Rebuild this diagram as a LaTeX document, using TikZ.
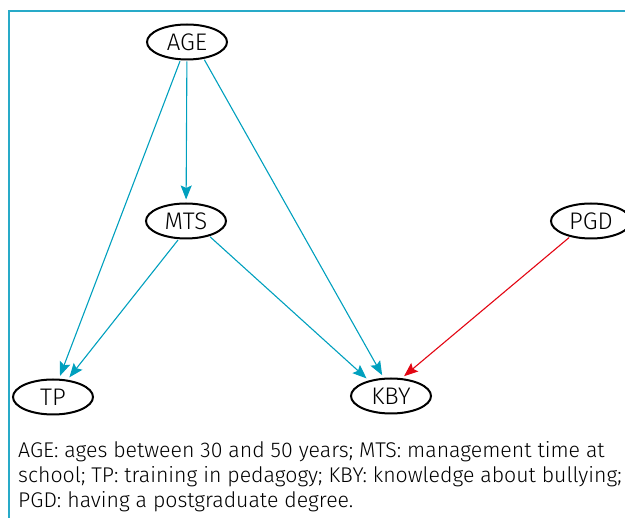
\documentclass[tikz,border=0pt]{standalone}
\usepackage{fontspec}
\setmainfont{Fira Sans Light}
\usetikzlibrary{shapes.geometric,arrows.meta}

\definecolor{dagteal}{RGB}{0,160,190}
\definecolor{dagred}{RGB}{227,6,19}
\definecolor{framecol}{RGB}{40,170,200}

\tikzset{
  var/.style={draw=black, ellipse, line width=2pt, minimum width=80pt,
    minimum height=35pt, inner sep=0pt, font=\fontsize{24}{28}\selectfont},
  link/.style={draw=dagteal, line width=1.1pt, shorten >=3pt, shorten <=1pt,
    -{Stealth[length=14pt,width=11pt,inset=2.5pt]}},
  redlink/.style={link, draw=dagred}
}

\begin{document}
\begin{tikzpicture}[x=1pt, y=-1pt]
  \useasboundingbox (0,0) rectangle (625,518);
  % frame
  \draw[framecol, line width=1.6pt] (9,518) -- (9,11) -- (626,11);
  % variables
  \node[var] (AGE) at (187,42) {AGE};
  \node[var] (MTS) at (186,221) {MTS};
  \node[var] (PGD) at (591,221) {PGD};
  \node[var] (TP) at (53,397) {TP};
  \node[var] (KBY) at (391,396) {KBY};
  % arrows
  \draw[link] (AGE.-110) -- (TP.72);
  \draw[link] (AGE) -- (MTS);
  \draw[link] (AGE.-45) -- (KBY.112);
  \draw[link] (MTS.-112) -- (TP.50);
  \draw[link] (MTS.-33) -- (KBY.145);
  \draw[redlink] (PGD.-143) -- (KBY.59);
  % legend
  \node[anchor=north west, align=left, inner sep=0pt,
    font=\fontsize{21.3}{25.2}\selectfont] (legend) at (18,441)
    {AGE: ages between 30 and 50 years; MTS: management time at\\
     school; TP: training in pedagogy; KBY: knowledge about bullying;\\
     PGD: having a postgraduate degree.};
\end{tikzpicture}
\end{document}
